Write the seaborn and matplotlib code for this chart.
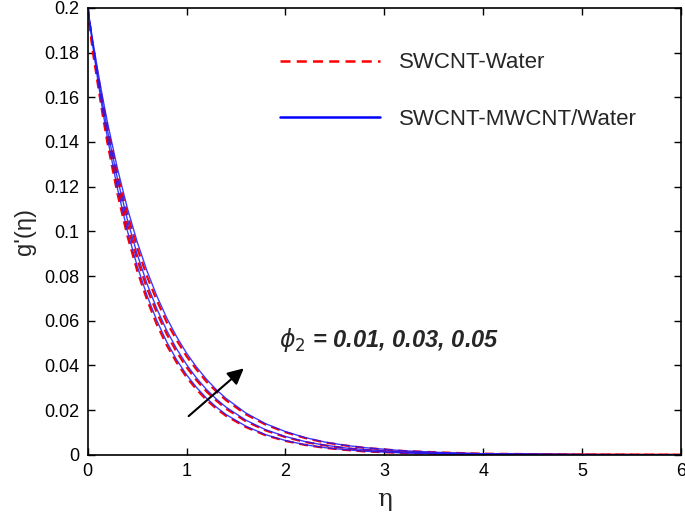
#!/usr/bin/env python3

# g'(eta) profiles for SWCNT-Water vs SWCNT-MWCNT/Water, phi2 = 0.01, 0.03, 0.05

import matplotlib
matplotlib.use('Agg')
import matplotlib.pyplot as plt
from matplotlib.lines import Line2D
import seaborn as sns

# data
eta = [0, 0.05, 0.1, 0.15, 0.2, 0.3, 0.4, 0.5, 0.6, 0.7, 0.8, 0.9, 1.0, 1.1,
       1.2, 1.3, 1.4, 1.6, 1.8, 2.0, 2.2, 2.4, 2.6, 2.8, 3.2, 3.6, 4.0, 5.0, 6.0]

# SWCNT-MWCNT/Water (blue, solid), phi2 = 0.01, 0.03, 0.05
hybrid_001 = [0.2, 0.1835, 0.1684, 0.1545, 0.1418, 0.1194, 0.1005, 0.0846, 0.0713,
              0.0600, 0.0505, 0.0425, 0.0358, 0.0302, 0.0254, 0.0214, 0.0180,
              0.0128, 0.0090, 0.0064, 0.0045, 0.0032, 0.0023, 0.0016, 0.0008,
              0.0004, 0.0002, 0.00004, 0.0]
hybrid_003 = [0.2, 0.1846, 0.1704, 0.1573, 0.1452, 0.1238, 0.1055, 0.0899, 0.0766,
              0.0653, 0.0556, 0.0474, 0.0404, 0.0344, 0.0293, 0.0250, 0.0213,
              0.0155, 0.0112, 0.0082, 0.0059, 0.0043, 0.0031, 0.0023, 0.0012,
              0.0006, 0.0003, 0.0001, 0.0]
hybrid_005 = [0.2, 0.1857, 0.1725, 0.1602, 0.1488, 0.1283, 0.1106, 0.0954, 0.0823,
              0.0710, 0.0612, 0.0528, 0.0455, 0.0393, 0.0339, 0.0292, 0.0252,
              0.0187, 0.0139, 0.0104, 0.0077, 0.0057, 0.0043, 0.0032, 0.0018,
              0.0010, 0.0005, 0.0001, 0.0]

# SWCNT-Water (red, dashed), phi2 = 0.01, 0.03, 0.05
water_001 = [0.2, 0.1810, 0.1665, 0.1525, 0.1395, 0.1170, 0.0982, 0.0825, 0.0694,
             0.0582, 0.0490, 0.0413, 0.0347, 0.0293, 0.0246, 0.0207, 0.0174,
             0.0124, 0.0087, 0.0062, 0.0044, 0.0031, 0.0022, 0.0015, 0.0008,
             0.0004, 0.0002, 0.00004, 0.0]
water_003 = [0.2, 0.1823, 0.1686, 0.1551, 0.1428, 0.1212, 0.1030, 0.0876, 0.0745,
             0.0635, 0.0540, 0.0460, 0.0392, 0.0334, 0.0284, 0.0243, 0.0206,
             0.0150, 0.0109, 0.0079, 0.0057, 0.0042, 0.0030, 0.0022, 0.0012,
             0.0006, 0.0003, 0.0001, 0.0]
water_005 = [0.2, 0.1836, 0.1707, 0.1582, 0.1464, 0.1256, 0.1079, 0.0928, 0.0798,
             0.0690, 0.0593, 0.0513, 0.0441, 0.0382, 0.0328, 0.0284, 0.0244,
             0.0181, 0.0135, 0.0101, 0.0075, 0.0055, 0.0042, 0.0031, 0.0017,
             0.0010, 0.0005, 0.0001, 0.0]

x_ticks = [0, 1, 2, 3, 4, 5, 6]
y_ticks = [0, 0.02, 0.04, 0.06, 0.08, 0.1, 0.12, 0.14, 0.16, 0.18, 0.2]
y_tick_labels = ['0', '0.02', '0.04', '0.06', '0.08', '0.1', '0.12', '0.14',
                 '0.16', '0.18', '0.2']

legend_labels = ['SWCNT-Water', 'SWCNT-MWCNT/Water']
phi_label = r'$\phi_2$' + ' = 0.01, 0.03, 0.05'


def main():
    sns.set_theme(style='ticks')
    plt.rcParams['font.family'] = ['Liberation Sans', 'DejaVu Sans']
    plt.rcParams['xtick.direction'] = 'in'
    plt.rcParams['ytick.direction'] = 'in'

    fig = plt.figure(figsize=(6.85, 5.27), dpi=100)
    ax = fig.add_axes([0.128, 0.137, 0.866, 0.848])

    # red dashed first, blue solid on top
    for vals in [water_001, water_003, water_005]:
        sns.lineplot(x=eta, y=vals, ax=ax, color='#ff0000', linewidth=1.6,
                     linestyle=(0, (4, 2.5)), estimator=None, sort=False)
    for vals in [hybrid_001, hybrid_003, hybrid_005]:
        sns.lineplot(x=eta, y=vals, ax=ax, color='#1a1aff', linewidth=1.0,
                     estimator=None, sort=False, alpha=0.85)

    ax.set_xlim(0, 6)
    ax.set_ylim(0, 0.2)
    ax.set_xticks(x_ticks)
    ax.set_yticks(y_ticks)
    ax.set_yticklabels(y_tick_labels)
    ax.tick_params(axis='both', which='both', top=True, right=True, length=5,
                   width=1, labelsize=13, colors='black', pad=6)
    for sp in ax.spines.values():
        sp.set_linewidth(1.2)
        sp.set_color('black')

    ax.set_xlabel('η', fontsize=18, labelpad=6, family='DejaVu Serif')
    ax.set_ylabel("g'(η)", fontsize=17, labelpad=6)

    # legend without frame
    handles = [Line2D([], [], color='#ff0000', linewidth=1.8, linestyle=(0, (4, 2.5))),
               Line2D([], [], color='#0000ff', linewidth=1.8)]
    ax.legend(handles, legend_labels, loc='upper left', bbox_to_anchor=(0.29, 0.945),
              frameon=False, fontsize=16, handlelength=4.5, labelspacing=1.6,
              handletextpad=0.85)

    # phi2 annotation with arrow
    ax.text(1.94, 0.0515, phi_label, fontsize=17,
            fontweight='bold', style='italic', va='center', ha='left')
    ax.annotate('', xy=(1.6, 0.0395), xytext=(1.0, 0.0165),
                arrowprops=dict(arrowstyle='-|>', color='black', lw=1.5,
                                mutation_scale=24))

    fig.savefig('out.png', dpi=100)


if __name__ == "__main__":
    main()
